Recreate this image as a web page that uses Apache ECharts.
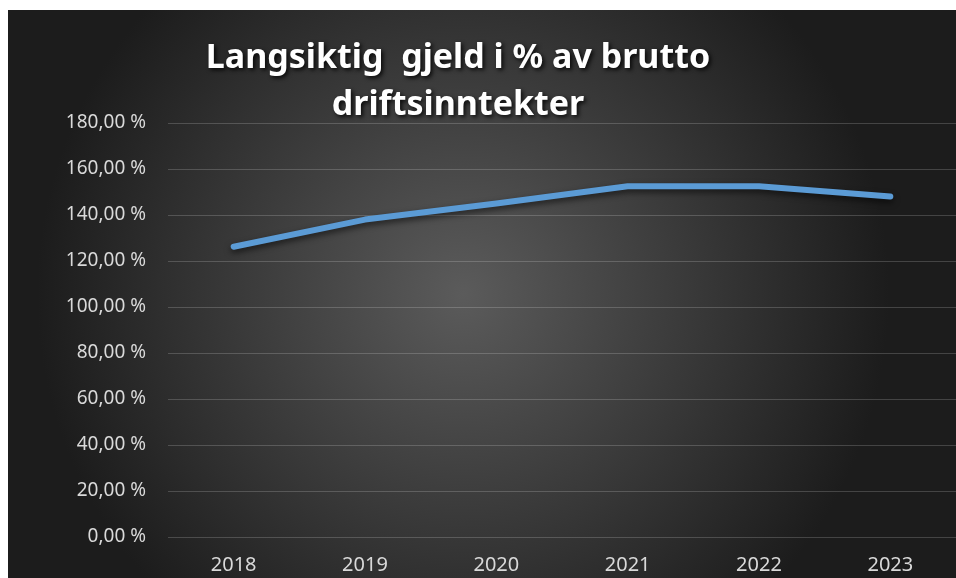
<!doctype html>
<html>
<head>
<meta charset="UTF-8">
<title>Langsiktig gjeld</title>
<script src="https://cdn.jsdelivr.net/npm/echarts@6/dist/echarts.min.js"></script>
<style>
  html, body { margin: 0; padding: 0; background: #fff; }
  #main { position: absolute; left: 8px; top: 10px; width: 948px; height: 568px; }
</style>
</head>
<body>
<div id="main"></div>
<script>
// data
var years = ['2018', '2019', '2020', '2021', '2022', '2023'];
var gjeldPst = [126.2, 138, 145, 152.5, 152.5, 148];
var yMin = 0, yMax = 180, yStep = 20;

var myChart = echarts.init(document.getElementById('main'));

var option = {
    backgroundColor: {
        type: 'radial', x: 0.48, y: 0.5, r: 0.75,
        colorStops: [
            { offset: 0, color: '#5b5b5b' },
            { offset: 1, color: '#1c1c1c' }
        ]
    },
    title: {
        text: 'Langsiktig  gjeld i % av brutto\ndriftsinntekter',
        left: 445,
        top: 20,
        textAlign: 'center',
        textStyle: {
            color: '#ffffff',
            fontFamily: 'Noto Sans',
            fontWeight: 'bold',
            fontSize: 34,
            lineHeight: 47,
            textShadowColor: 'rgba(0,0,0,0.85)',
            textShadowBlur: 4,
            textShadowOffsetX: 2,
            textShadowOffsetY: 2
        }
    },
    grid: {
        left: 160,
        top: 113,
        width: 801,
        bottom: 41,
        containLabel: false
    },
    xAxis: {
        type: 'category',
        data: years,
        boundaryGap: true,
        axisLine: { show: false },
        axisTick: { show: false },
        axisLabel: {
            color: '#d9d9d9',
            fontFamily: 'Noto Sans',
            fontSize: 20,
            margin: 18
        }
    },
    yAxis: {
        type: 'value',
        min: yMin,
        max: yMax,
        interval: yStep,
        axisLine: { show: false },
        axisTick: { show: false },
        splitLine: { lineStyle: { color: 'rgba(255,255,255,0.18)', width: 1 } },
        axisLabel: {
            color: '#d9d9d9',
            fontFamily: 'Noto Sans',
            fontSize: 19,
            margin: 22,
            formatter: function (v) { return v.toFixed(2).replace('.', ',') + ' %'; }
        }
    },
    series: [
        {
            name: 'Langsiktig gjeld',
            type: 'line',
            data: gjeldPst,
            showSymbol: false,
            symbol: 'none',
            lineStyle: {
                color: '#5b9bd5',
                width: 6,
                cap: 'round',
                join: 'round',
                shadowColor: 'rgba(0,0,0,0.6)',
                shadowBlur: 6,
                shadowOffsetY: 3
            }
        }
    ]
};

myChart.setOption(option);
</script>
</body>
</html>
